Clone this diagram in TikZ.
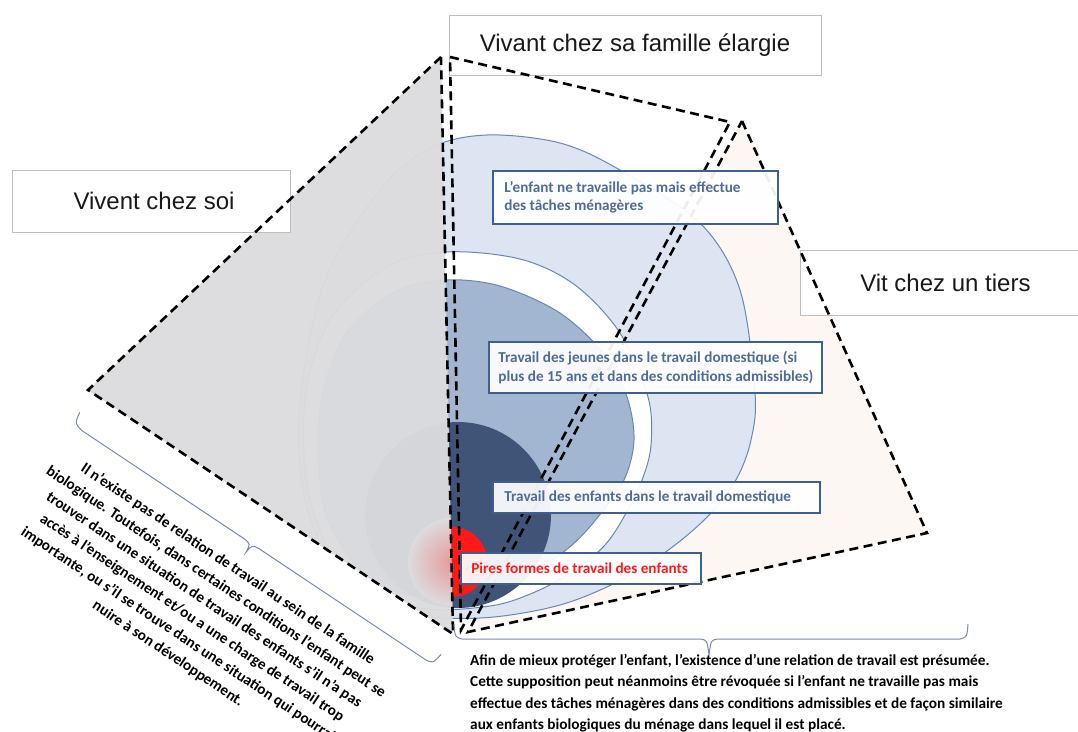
\documentclass[tikz,border=0pt]{standalone}
\usepackage{fontspec}
\setmainfont{Carlito}
\newfontfamily\arialfont{Liberation Sans}
\definecolor{boxblue}{RGB}{63,95,143}
\definecolor{txtblue}{RGB}{79,108,150}
\definecolor{outerfill}{RGB}{220,229,241}
\definecolor{ringline}{RGB}{105,135,180}
\definecolor{medfill}{RGB}{163,182,209}
\definecolor{darkfill}{RGB}{64,84,120}
\definecolor{greyfill}{RGB}{220,220,222}
\definecolor{creamfill}{RGB}{252,247,242}
\definecolor{bracecol}{RGB}{125,138,175}
\definecolor{redfill}{RGB}{255,25,25}
\definecolor{catline}{RGB}{190,190,190}
\begin{document}
\begin{tikzpicture}[x=1pt,y=-1pt,
  dashedge/.style={draw=black,line width=2.6pt,dash pattern=on 9pt off 5.5pt},
  catbox/.style={draw=catline,line width=0.8pt,fill=white,inner sep=0pt,
    font=\arialfont\fontsize{24}{28}\selectfont,text=black!90},
  levelframe/.style={draw=boxblue,line width=1.6pt,fill=white,fill opacity=0.93,inner sep=0pt},
  leveltext/.style={text=txtblue,font=\bfseries\fontsize{15.2}{19}\selectfont,align=left,inner sep=0pt,anchor=west},
  ringshape/.style={draw=ringline,line width=1pt},
  bracestyle/.style={draw=bracecol,line width=1pt},
  notetext/.style={font=\bfseries\fontsize{15.3}{21.5}\selectfont,text=black,inner sep=0pt}
]
\useasboundingbox (0,0) rectangle (1078,731);
\fill[white] (0,0) rectangle (1078,731);

% nested target, clipped to the three zones
\begin{scope}
  \clip (88,390) -- (441,57) -- (450,57) -- (736,121) -- (742,121) -- (927,533) -- (468,632) -- (453,634) -- cycle;
  \fill[creamfill] (742,121) -- (927,533) -- (468,632) -- cycle;
  \draw[ringshape,fill=outerfill] plot[smooth cycle,tension=0.55] coordinates {(487,135) (560,143) (620,170) (700,223) (740,290) (755,393) (751,440) (737,478) (712,512) (675,545) (625,578) (560,605) (480,618) (400,612) (340,575) (305,500) (300,400) (325,280) (380,190) (430,148)};
  \draw[ringshape,fill=white] plot[smooth cycle,tension=0.55] coordinates {(445,252) (520,259) (575,285) (620,333) (648,397) (651,445) (642,480) (625,515) (605,545) (575,570) (535,592) (490,606) (420,608) (350,580) (310,500) (305,400) (330,320) (385,268)};
  \draw[ringshape,fill=medfill] plot[smooth cycle,tension=0.55] coordinates {(445,280) (500,286) (560,313) (605,355) (627,397) (634,440) (624,480) (598,517) (572,545) (535,572) (490,595) (440,600) (370,580) (325,510) (320,410) (345,335) (395,292)};
  \fill[darkfill] (458,515) circle (93);
  \fill[redfill] (452,562) circle (35);
\end{scope}

% "vivent chez soi" zone (almost opaque, red glow shows through)
\fill[greyfill,fill opacity=0.96] (441,57) -- (88,390) -- (453,634) -- cycle;
\begin{scope}
  \clip (441,57) -- (88,390) -- (453,634) -- cycle;
  \shade[inner color=red!30!greyfill,outer color=greyfill] (452,562) circle (44);
\end{scope}

% category labels
\node[catbox,minimum width=278,minimum height=62] (soi) at (151,201) {\hspace*{6pt}Vivent chez soi};
\node[catbox,minimum width=372,minimum height=60] (elargie) at (635,45) {Vivant chez sa famille élargie};
\node[catbox,minimum width=290,minimum height=65,anchor=west] (tiers) at (800,282.5) {Vit chez un tiers};

% dashed zones
\draw[dashedge] (441,57) -- (88,390) -- (453,634) -- cycle;
\draw[dashedge] (450,57) -- (730,122) -- (461,630) -- cycle;
\draw[dashedge] (742,121) -- (927,533) -- (468,632) -- cycle;

% level labels
\node[levelframe,minimum width=285,minimum height=53] (l1box) at (635.5,197.5) {};
\node[leveltext,font=\bfseries\fontsize{15.2}{18.5}\selectfont] (l1) at ([xshift=12pt]l1box.west) {L’enfant ne travaille pas mais effectue\\des tâches ménagères};
\node[levelframe,minimum width=333,minimum height=51] (l2box) at (655.5,367.5) {};
\node[leveltext] (l2) at ([xshift=10pt]l2box.west) {Travail des jeunes dans le travail domestique (si\\plus de 15 ans et dans des conditions admissibles)};
\node[levelframe,minimum width=327,minimum height=31] (l3box) at (656.5,497.5) {};
\node[leveltext] (l3) at ([xshift=12pt]l3box.west) {Travail des enfants dans le travail domestique};
\node[levelframe,minimum width=240,minimum height=31] (l4box) at (581,568.5) {};
\node[leveltext,text=redfill] (l4) at ([xshift=11pt]l4box.west) {Pires formes de travail des enfants};

% bottom brace and note
\draw[bracestyle] (454,624) .. controls (455,637) .. (462,639) -- (700,639) .. controls (707,640) .. (709,655) .. controls (711,640) .. (718,639) -- (960,639) .. controls (967,637) .. (968,624);
\node[notetext,align=left,anchor=north west] (note2) at (470,654) {Afin de mieux protéger l’enfant, l’existence d’une relation de travail est présumée.\\Cette supposition  peut néanmoins être révoquée si l’enfant ne travaille pas mais\\effectue des tâches ménagères dans des conditions  admissibles et de façon similaire\\aux enfants biologiques du ménage dans lequel il est placé.};

% left brace and note
\begin{scope}[shift={(255,546)},rotate=-33.7]
  \draw[bracestyle] (-220,-14) .. controls (-218,-2) .. (-208,0) -- (-12,0) .. controls (-5,1) .. (-4,10) .. controls (-3,1) .. (4,0) -- (205,0) .. controls (213,-1) .. (215,-13);
\end{scope}
\node[notetext,align=center,rotate=-33.7] (note1) at (198,609) {Il n’existe pas de relation de travail au sein de la famille\\biologique. Toutefois, dans certaines conditions l’enfant peut se\\trouver dans une situation de travail des enfants  s’il n’a pas\\accès à l’enseignement et/ou a une charge de travail trop\\importante, ou s’il se trouve dans une situation qui pourrait\\nuire à son développement.};
\end{tikzpicture}
\end{document}
